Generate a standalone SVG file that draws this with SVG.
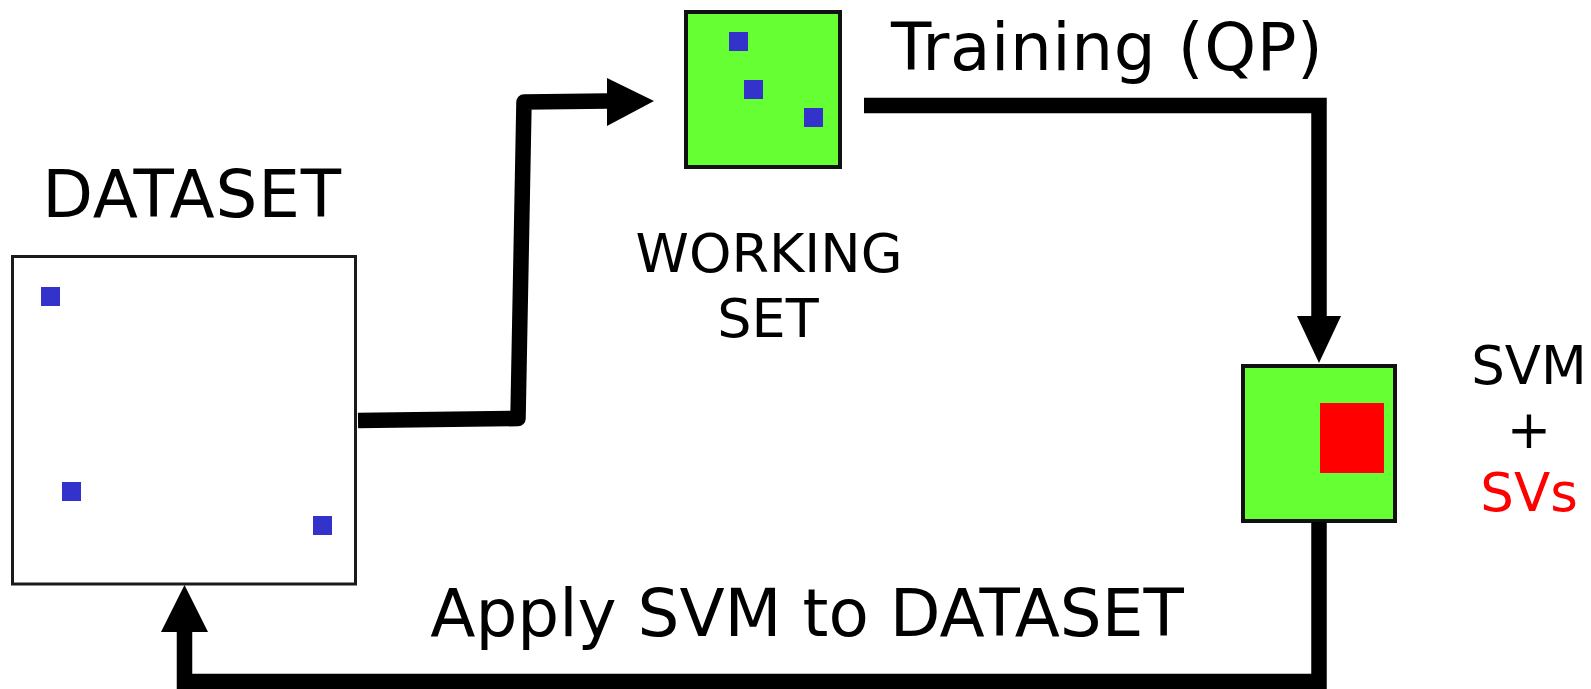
<svg xmlns="http://www.w3.org/2000/svg" width="1591" height="689" viewBox="0 0 1591 689">
  <style>
    .label { font-family: "DejaVu Sans", Verdana, sans-serif; fill: #000000; }
    .frame { fill: #ffffff; stroke: #1a1a1a; stroke-width: 3; }
    .set { fill: #66ff33; stroke: #111111; stroke-width: 4; }
    .point { fill: #3333cc; }
    .flow { fill: none; stroke: #000000; stroke-width: 15.5; }
    .head { fill: #000000; }
  </style>

  <rect width="1591" height="689" fill="#ffffff"/>

  <!-- full dataset with scattered samples -->
  <g id="dataset">
    <text class="label" x="192" y="217" font-size="66" letter-spacing="0.8" text-anchor="middle">DATASET</text>
    <rect class="frame" x="12.5" y="256.5" width="343" height="327.5"/>
    <rect class="point" x="41" y="287" width="19" height="19"/>
    <rect class="point" x="62" y="482" width="19" height="19"/>
    <rect class="point" x="313" y="516" width="19" height="19"/>
  </g>

  <!-- working set sampled from the dataset -->
  <g id="working-set">
    <rect class="set" x="686" y="12" width="154" height="155"/>
    <rect class="point" x="729" y="32" width="19" height="19"/>
    <rect class="point" x="744" y="80" width="19" height="19"/>
    <rect class="point" x="804" y="108" width="19" height="19"/>
    <text class="label" x="769" y="272" font-size="54" text-anchor="middle">WORKING</text>
    <text class="label" x="768" y="337" font-size="54" text-anchor="middle">SET</text>
  </g>

  <!-- trained model with its support vectors -->
  <g id="svm">
    <rect class="set" x="1243" y="366" width="152" height="155"/>
    <rect x="1320" y="403" width="64" height="70" fill="#ff0000"/>
    <text class="label" x="1529" y="384" font-size="53" text-anchor="middle">SVM</text>
    <text class="label" x="1529" y="448" font-size="53" text-anchor="middle">+</text>
    <text class="label" x="1529" y="511" font-size="53" text-anchor="middle" style="fill:#ff0000">SVs</text>
  </g>

  <!-- edge captions -->
  <g id="captions">
    <text class="label" x="891" y="70" font-size="66" letter-spacing="0.6">Training (QP)</text>
    <text class="label" x="807" y="636" font-size="66" text-anchor="middle">Apply SVM to DATASET</text>
  </g>

  <g id="connectors">
    <!-- dataset -> working set -->
    <path class="flow" d="M358,420.5 L518,418.5 L524,102 L608,101" stroke-linejoin="round"/>
    <polygon class="head" points="607,78 654,101 607,126"/>
    <!-- working set -> svm (training) -->
    <path class="flow" d="M864,105.5 H1319 V317" stroke-linejoin="miter"/>
    <polygon class="head" points="1297,316 1341,316 1319,363"/>
    <!-- svm -> dataset (apply) -->
    <path class="flow" d="M1319,522 V681.5 H184.5 V631" stroke-linejoin="miter"/>
    <polygon class="head" points="161,632 208,632 184.5,585"/>
  </g>
</svg>
